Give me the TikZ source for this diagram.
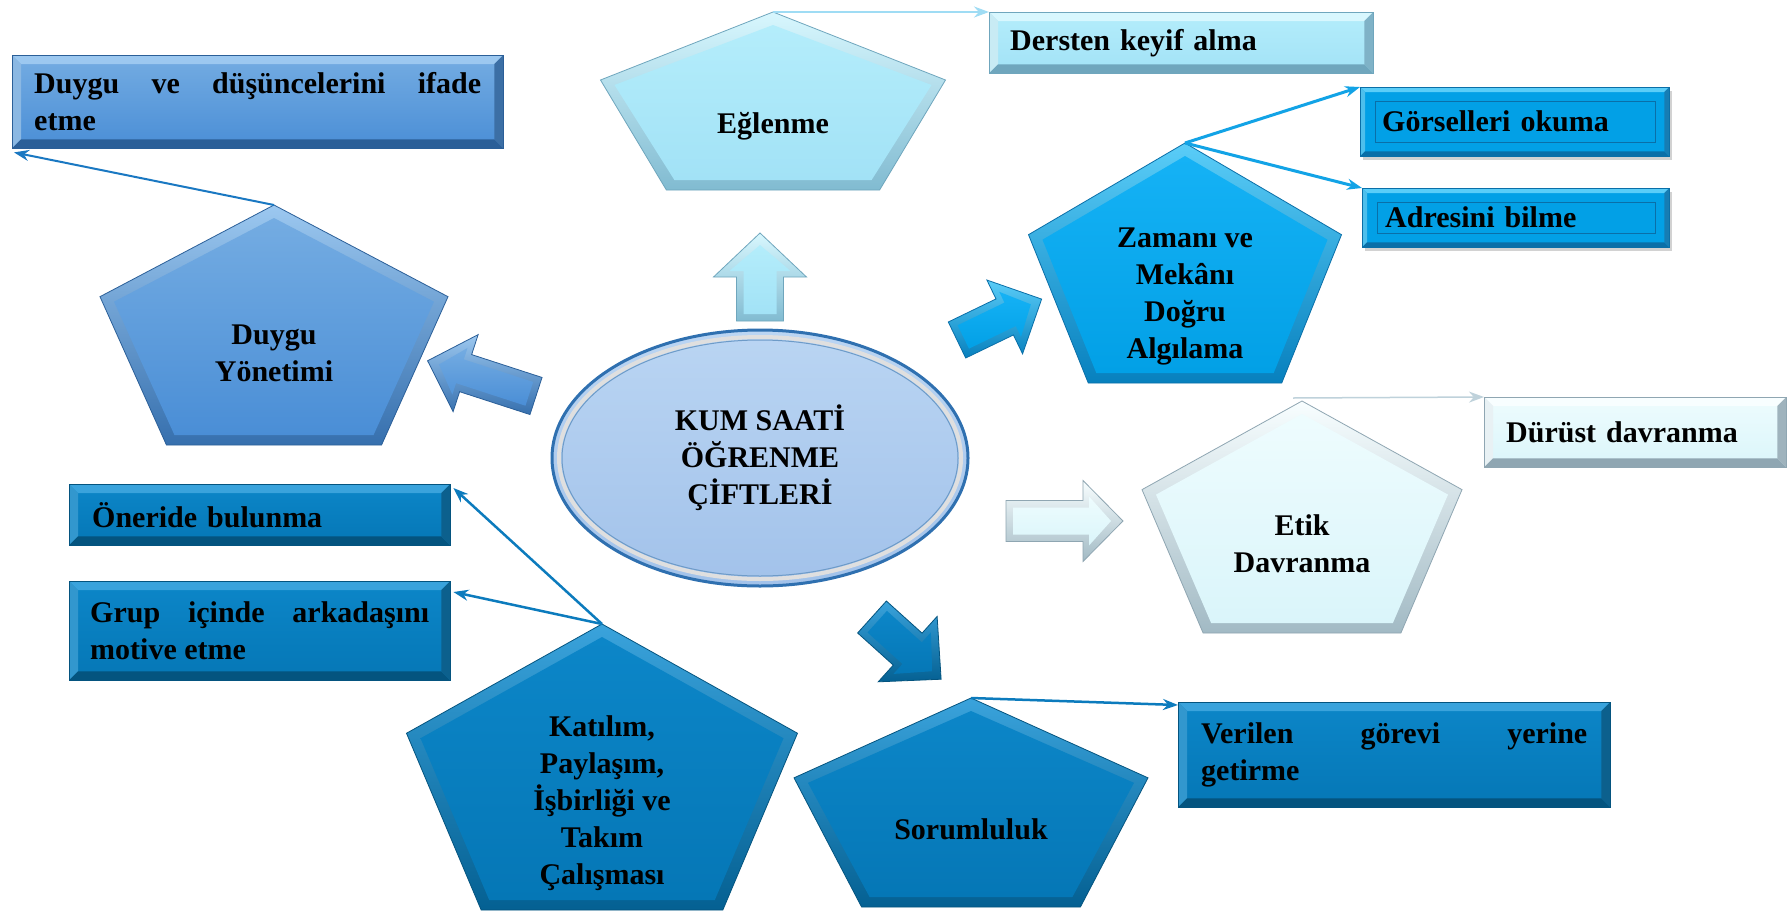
\documentclass[tikz,border=0pt]{standalone}
\usepackage{fontspec}
\setmainfont{Liberation Serif}
\usetikzlibrary{shapes.geometric,arrows.meta,calc,shadows}

\definecolor{duyA}{HTML}{74ACE2}\definecolor{duyB}{HTML}{4A8ED6}
\definecolor{duyL}{HTML}{9CC8F0}\definecolor{duyD}{HTML}{2B5F98}
\definecolor{eglA}{HTML}{B4EDFB}\definecolor{eglB}{HTML}{A2E2F6}
\definecolor{eglL}{HTML}{D8F7FE}\definecolor{eglD}{HTML}{6FA6BD}
\definecolor{zamA}{HTML}{15B2F5}\definecolor{zamB}{HTML}{02A0E6}
\definecolor{zamL}{HTML}{5ACDF8}\definecolor{zamD}{HTML}{0A6FA8}
\definecolor{etkA}{HTML}{EEFCFE}\definecolor{etkB}{HTML}{DAF5FA}
\definecolor{etkL}{HTML}{F8FEFF}\definecolor{etkD}{HTML}{8FA6B2}
\definecolor{katA}{HTML}{0C86C8}\definecolor{katB}{HTML}{0577B6}
\definecolor{katL}{HTML}{3AA3DC}\definecolor{katD}{HTML}{04547F}
\definecolor{ellA}{HTML}{BAD5F3}\definecolor{ellB}{HTML}{A2C2EA}
\definecolor{ellD}{HTML}{2F70B0}
\definecolor{cDuy}{HTML}{1A78C2}\definecolor{cEgl}{HTML}{9FDCF4}
\definecolor{cZam}{HTML}{12A3E6}\definecolor{cEtk}{HTML}{BFD2DB}
\definecolor{cKat}{HTML}{0C7BBD}

\newcommand\txt{\bfseries\fontsize{30}{37}\selectfont}

\tikzset{
  duy fill/.style={top color=duyA, bottom color=duyB},
  duy edge/.style={top color=duyL, bottom color=duyD!65!duyB, draw=duyD, line width=0.8pt},
  egl fill/.style={top color=eglA, bottom color=eglB},
  egl edge/.style={top color=eglL, bottom color=eglD!65!eglB, draw=eglD, line width=0.8pt},
  zam fill/.style={top color=zamA, bottom color=zamB},
  zam edge/.style={top color=zamL, bottom color=zamD!65!zamB, draw=zamD, line width=0.8pt},
  etk fill/.style={top color=etkA, bottom color=etkB},
  etk edge/.style={top color=etkL, bottom color=etkD!75!etkB, draw=etkD, line width=0.8pt},
  kat fill/.style={top color=katA, bottom color=katB},
  kat edge/.style={top color=katL, bottom color=katD!65!katB, draw=katD, line width=0.8pt},
  tbox/.style={rectangle, anchor=north west, inner ysep=0pt, font=\txt, align=left},
  ptext/.style={font=\txt, align=center, inner sep=0pt},
  conn/.style={-{Stealth[length=15pt,width=11pt]}, line width=2pt}
}

% pentagon: name, cx, top, width, height, colour prefix
\newcommand\pent[6]{%
  \path[#6 edge] (#2,#3) -- ({#2+#4/2},{#3+0.382*#5}) -- ({#2+0.309*#4},{#3+#5})
     -- ({#2-0.309*#4},{#3+#5}) -- ({#2-#4/2},{#3+0.382*#5}) -- cycle;
  \path[#6 fill] (#2,{#3+13}) -- ({#2+#4/2-14},{#3+0.382*#5+5}) -- ({#2+0.309*#4-8},{#3+#5-10})
     -- ({#2-0.309*#4+8},{#3+#5-10}) -- ({#2-#4/2+14},{#3+0.382*#5+5}) -- cycle;
  \coordinate (#1-top) at (#2,#3);}

% block arrow: x, y (tail centre), rotation, length, shaft w, head w, head length, prefix
\newcommand\barrow[8]{%
  \begin{scope}[shift={(#1,#2)}, rotate=#3]
    \path[#8 edge] (0,{-#5/2}) -- ({#4-#7},{-#5/2}) -- ({#4-#7},{-#6/2}) -- (#4,0)
      -- ({#4-#7},{#6/2}) -- ({#4-#7},{#5/2}) -- (0,{#5/2}) -- cycle;
    \path[#8 fill] (7,{-#5/2+7}) -- ({#4-#7+6},{-#5/2+7}) -- ({#4-#7+6},{-#6/2+16}) -- ({#4-12},0)
      -- ({#4-#7+6},{#6/2-16}) -- ({#4-#7+6},{#5/2-7}) -- (7,{#5/2-7}) -- cycle;
  \end{scope}}

% bevel round a box node: name, light, dark, width
\newcommand\bevel[4]{%
  \fill[#2] (#1.north west) -- (#1.north east) -- ([shift={(-#4pt,-#4pt)}]#1.north east) -- ([shift={(#4pt,-#4pt)}]#1.north west) -- cycle;
  \fill[#2!85!#3] (#1.north west) -- ([shift={(#4pt,-#4pt)}]#1.north west) -- ([shift={(#4pt,#4pt)}]#1.south west) -- (#1.south west) -- cycle;
  \fill[#3] (#1.south west) -- ([shift={(#4pt,#4pt)}]#1.south west) -- ([shift={(-#4pt,#4pt)}]#1.south east) -- (#1.south east) -- cycle;
  \fill[#3!85!#2] (#1.north east) -- (#1.south east) -- ([shift={(-#4pt,#4pt)}]#1.south east) -- ([shift={(-#4pt,-#4pt)}]#1.north east) -- cycle;
  \draw[#3, line width=0.8pt] (#1.north west) rectangle (#1.south east);}

\begin{document}
\begin{tikzpicture}[x=1pt, y=-1pt]
\fill[white] (0,0) rectangle (1789,911);
\useasboundingbox (0,0) rectangle (1789,911);

% ---------- pentagons ----------
\pent{duyguP}{274}{205}{348}{240}{duy}
\node[ptext] (duygu) at (274,353) {Duygu\\Yönetimi};

\pent{eglenmeP}{773}{12}{345}{178}{egl}
\node[ptext] (eglenme) at (773,126) {Eğlenme};

\pent{zamanP}{1185}{143}{313}{240}{zam}
\node[ptext] (zaman) at (1185,296) {Zamanı ve\\Mekânı\\Doğru\\Algılama};

\pent{etikP}{1302}{401}{320}{232}{etk}
\node[ptext] (etik) at (1302,544) {Etik\\Davranma};

\pent{katilimP}{602}{624}{391}{286}{kat}
\node[ptext] (katilim) at (602,803) {Katılım,\\Paylaşım,\\İşbirliği ve\\Takım\\Çalışması};

\pent{sorumP}{971}{698}{354}{209}{kat}
\node[ptext] (sorum) at (971,829) {Sorumluluk};

% ---------- central ellipse ----------
\node[ellipse, minimum width=416pt, minimum height=256pt, top color=ellA, bottom color=ellB,
      draw=ellD, line width=3pt, font=\txt, align=center, inner sep=0pt] (center) at (760,458)
      {KUM SAATİ\\ÖĞRENME\\ÇİFTLERİ};
\draw[white!75!gray, line width=4pt] (center.center) ellipse [x radius=201pt, y radius=121pt];
\draw[ellD!70, line width=1pt] (center.center) ellipse [x radius=198pt, y radius=118pt];

% ---------- block arrows ----------
\barrow{760}{321}{90}{88}{47}{93}{44}{egl}
\barrow{957}{340}{25.8}{94}{40}{82}{41}{zam}
\barrow{536}{396}{162}{114}{39}{81}{40}{duy}
\barrow{1006}{521}{0}{117}{41}{81}{40}{etk}
\barrow{872}{617}{-42}{93}{43}{88}{45}{kat}

% ---------- boxes ----------
\node[tbox, top color=duyA, bottom color=duyB, text width=447pt, inner xsep=22pt, minimum height=93pt, align=justify]
  (duyguBox) at (12,55) {Duygu ve düşüncelerini ifade\linebreak etme};
\bevel{duyguBox}{duyL}{duyD}{9}

\node[tbox, top color=eglA, bottom color=eglB, text width=342pt, inner xsep=21pt, minimum height=61pt]
  (derstenBox) at (989,12) {Dersten keyif alma};
\bevel{derstenBox}{eglL}{eglD}{9}

\node[tbox, fill=zamB, text width=265pt, inner xsep=22pt, minimum height=69pt,
      drop shadow={shadow xshift=3pt, shadow yshift=-4pt, opacity=0.35}]
  (gorselBox) at (1360,87) {Görselleri okuma};
\bevel{gorselBox}{zamL}{zamD}{5}
\draw[zamD, line width=1pt] ([shift={(15pt,-14pt)}]gorselBox.north west) rectangle ([shift={(-14pt,14pt)}]gorselBox.south east);

\node[tbox, fill=zamB, text width=261pt, inner xsep=23pt, minimum height=59pt,
      drop shadow={shadow xshift=3pt, shadow yshift=-4pt, opacity=0.35}]
  (adresBox) at (1362,188) {Adresini bilme};
\bevel{adresBox}{zamL}{zamD}{5}
\draw[zamD, line width=1pt] ([shift={(15pt,-14pt)}]adresBox.north west) rectangle ([shift={(-14pt,14pt)}]adresBox.south east);

\node[tbox, top color=etkA, bottom color=etkB, text width=258pt, inner xsep=22pt, minimum height=70pt]
  (durustBox) at (1484,397) {Dürüst davranma};
\bevel{durustBox}{etkL}{etkD}{9}

\node[tbox, top color=katA, bottom color=katB, text width=386pt, inner xsep=23pt, minimum height=105pt, align=justify]
  (verilenBox) at (1178,702) {Verilen görevi yerine\linebreak getirme};
\bevel{verilenBox}{katL}{katD}{9}

\node[tbox, top color=katA, bottom color=katB, text width=335pt, inner xsep=23pt, minimum height=61pt]
  (onerideBox) at (69,484) {Öneride bulunma};
\bevel{onerideBox}{katL}{katD}{9}

\node[tbox, top color=katA, bottom color=katB, text width=339pt, inner xsep=21pt, minimum height=99pt, align=justify]
  (grupBox) at (69,581) {Grup içinde arkadaşını\linebreak motive etme};
\bevel{grupBox}{katL}{katD}{9}

% ---------- connectors ----------
\draw[conn, cDuy] (duyguP-top) -- ([shift={(2pt,-4pt)}]duyguBox.south west);
\draw[conn, cEgl, line width=1.5pt] (eglenmeP-top) -- (derstenBox.north west);
\draw[conn, cZam, line width=3pt] (zamanP-top) -- (gorselBox.north west);
\draw[conn, cZam, line width=3pt] (zamanP-top) -- (adresBox.north west);
\draw[conn, cEtk, line width=1.5pt] ([shift={(-9pt,3pt)}]etikP-top) -- (durustBox.north west);
\draw[conn, cKat, line width=2.5pt] (katilimP-top) -- ([shift={(3pt,-4pt)}]onerideBox.north east);
\draw[conn, cKat, line width=2.5pt] (katilimP-top) -- ([shift={(3pt,-11pt)}]grupBox.north east);
\draw[conn, cKat, line width=2.5pt] (sorumP-top) -- ([yshift=-3pt]verilenBox.north west);
\end{tikzpicture}
\end{document}
